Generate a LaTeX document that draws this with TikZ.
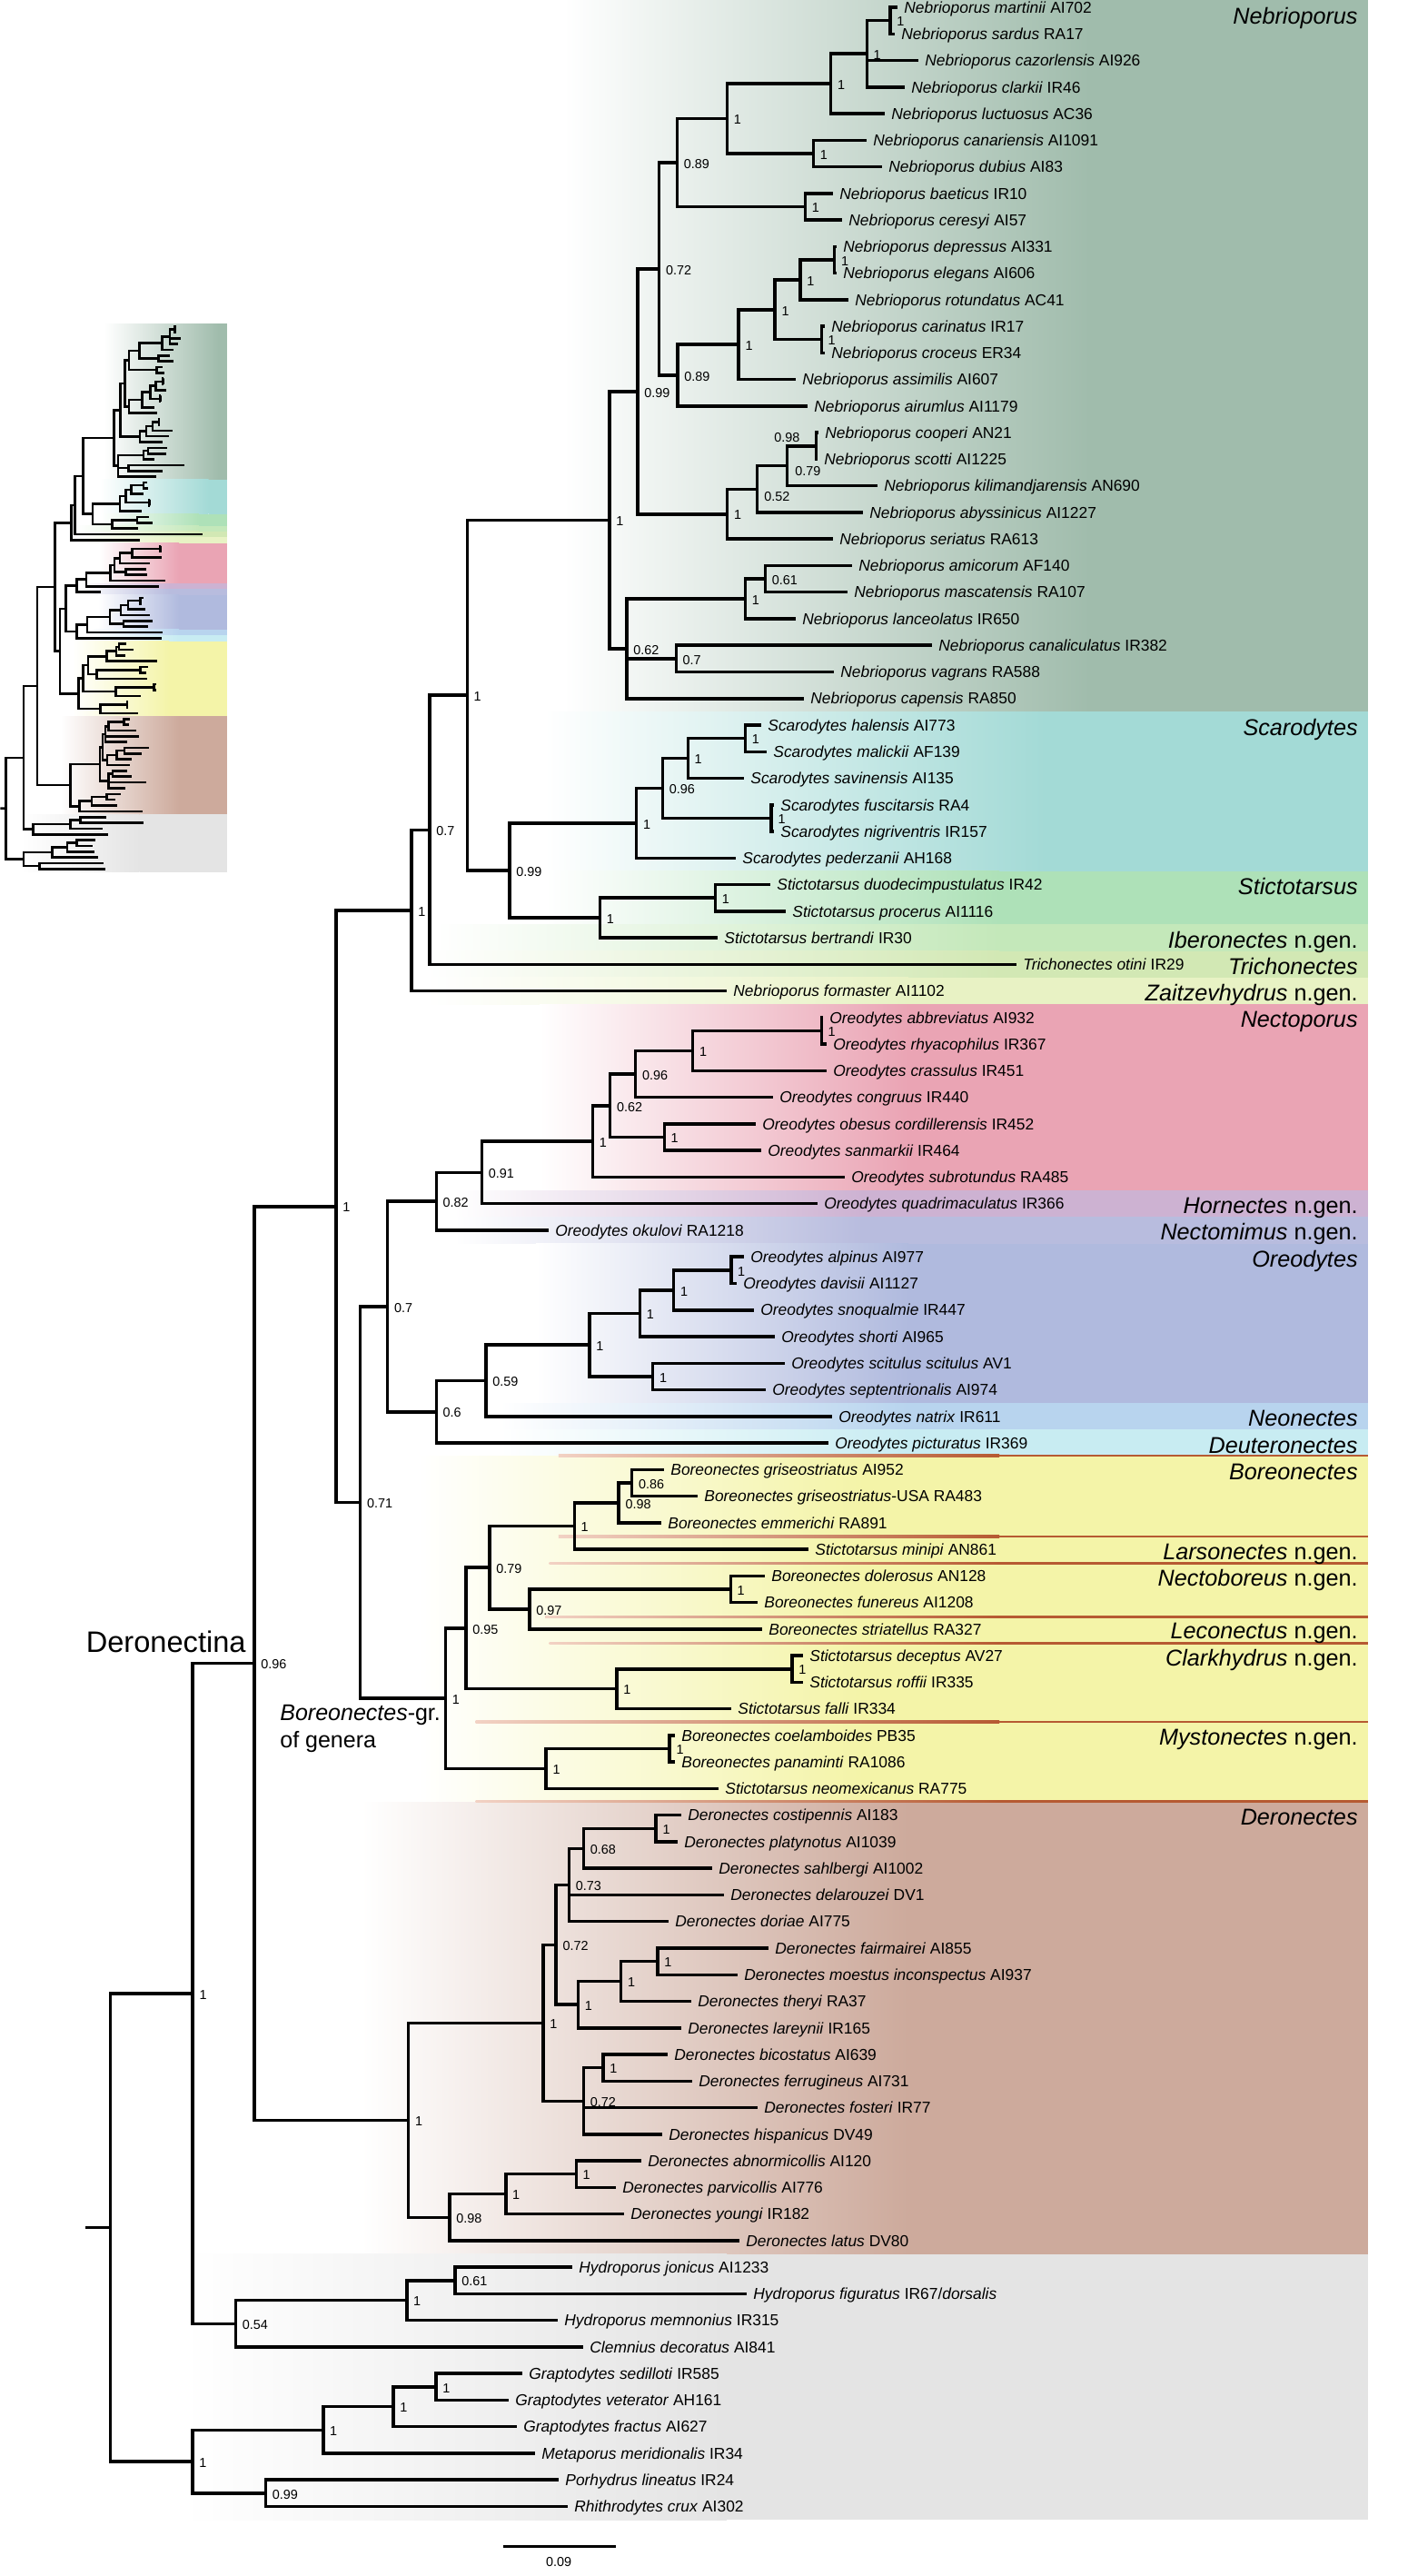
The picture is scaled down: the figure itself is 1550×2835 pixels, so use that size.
\documentclass[tikz,border=0pt]{standalone}
\usepackage{fontspec}
\setmainfont{Liberation Sans}
\usetikzlibrary{calc}
\definecolor{cNeb}{HTML}{A0BCAC}
\definecolor{cSca}{HTML}{A3DAD6}
\definecolor{cSti}{HTML}{AEE1B8}
\definecolor{cIbe}{HTML}{C4E8BA}
\definecolor{cTri}{HTML}{D2E8B4}
\definecolor{cZai}{HTML}{E8F2C4}
\definecolor{cNec}{HTML}{EAA4B4}
\definecolor{cHor}{HTML}{CDB2D2}
\definecolor{cNem}{HTML}{B8BCDE}
\definecolor{cOre}{HTML}{B0BADE}
\definecolor{cNeo}{HTML}{B8D4EE}
\definecolor{cDeu}{HTML}{C8ECF2}
\definecolor{cBor}{HTML}{F4F4A8}
\definecolor{cDer}{HTML}{CDAA9C}
\definecolor{cOut}{HTML}{E4E4E4}
\definecolor{cRed}{HTML}{B65A32}
\definecolor{cRedL}{HTML}{F2D2C4}

\newif\ifmaintree
\newcommand\ly[1]{8+29.26*(#1-1)}
\newcommand\lfx[4]{\coordinate (#1) at (#3,{\ly{#2}});\ifmaintree\node[leaflab] (#1t) at ($(#1)+(7,6.23)$) {#4};\fi}
\newcommand\lf[5]{\lfx{#1}{#2}{#3}{\textit{#4} #5}}
\newcommand\nd[6][7,6.2]{%
 \coordinate (tmp) at ($(#4)!0.5!(#5)$);
 \coordinate (#2) at (#3,0 |- tmp);
 \draw[br] (#2) |- (#4);
 \draw[br] (#2) |- (#5);
 \ifmaintree\node[suplab] (#2s) at ($(#2)+(#1)$) {#6};\fi}
\newcommand\band[6]{%
 \pgfmathsetmacro\bdT{8+29.26*(#1-1)-14.63}%
 \pgfmathsetmacro\bdB{8+29.26*(#2-1)+14.63}%
 \shade[left color=white, right color=#3] (#4,\bdT) rectangle (#5,\bdB);
 \fill[#3] (#5-0.5,\bdT) rectangle (#6,\bdB);}
\newcommand\AllBands[1]{%
 \band{1}{27}{cNeb}{620}{1200}{#1}
 \band{28}{33}{cSca}{600}{1150}{#1}
 \band{34}{35}{cSti}{600}{1100}{#1}
 \band{36}{36}{cIbe}{480}{1100}{#1}
 \band{37}{37}{cTri}{470}{1100}{#1}
 \band{38}{38}{cZai}{470}{1000}{#1}
 \band{39}{45}{cNec}{594}{1000}{#1}
 \band{46}{46}{cHor}{500}{950}{#1}
 \band{47}{47}{cNem}{500}{950}{#1}
 \band{48}{53}{cOre}{590}{1000}{#1}
 \band{54}{54}{cNeo}{550}{1000}{#1}
 \band{55}{55}{cDeu}{550}{1000}{#1}
 \band{56}{68}{cBor}{460}{950}{#1}
 \band{69}{85}{cDer}{398}{1000}{#1}
 \band{86}{95}{cOut}{200}{800}{#1}}
\newcommand\rl[2]{\shade[left color=cRedL, right color=cRed] (#1,{#2-1.2}) rectangle (1100,{#2+1.2});
 \fill[cRed] (1099.5,{#2-1.2}) rectangle (1506,{#2+1.2});}
\newcommand\clade[3]{\node[cladelab] (#1) at (1495,{\ly{#2}+11}) {#3};}

\newcommand\TreeBody{%
\lf{L1}{1}{988}{Nebrioporus martinii}{AI702}
\lf{L2}{2}{985}{Nebrioporus sardus}{RA17}
\lf{L3}{3}{1011}{Nebrioporus cazorlensis}{AI926}
\lf{L4}{4}{996}{Nebrioporus clarkii}{IR46}
\lf{L5}{5}{974}{Nebrioporus luctuosus}{AC36}
\lf{L6}{6}{954}{Nebrioporus canariensis}{AI1091}
\lf{L7}{7}{971}{Nebrioporus dubius}{AI83}
\lf{L8}{8}{917}{Nebrioporus baeticus}{IR10}
\lf{L9}{9}{927}{Nebrioporus ceresyi}{AI57}
\lf{L10}{10}{921}{Nebrioporus depressus}{AI331}
\lf{L11}{11}{921}{Nebrioporus elegans}{AI606}
\lf{L12}{12}{934}{Nebrioporus rotundatus}{AC41}
\lf{L13}{13}{908}{Nebrioporus carinatus}{IR17}
\lf{L14}{14}{908}{Nebrioporus croceus}{ER34}
\lf{L15}{15}{876}{Nebrioporus assimilis}{AI607}
\lf{L16}{16}{889}{Nebrioporus airumlus}{AI1179}
\lf{L17}{17}{901}{Nebrioporus cooperi}{AN21}
\lf{L18}{18}{900}{Nebrioporus scotti}{AI1225}
\lf{L19}{19}{966}{Nebrioporus kilimandjarensis}{AN690}
\lf{L20}{20}{950}{Nebrioporus abyssinicus}{AI1227}
\lf{L21}{21}{917}{Nebrioporus seriatus}{RA613}
\lf{L22}{22}{938}{Nebrioporus amicorum}{AF140}
\lf{L23}{23}{933}{Nebrioporus mascatensis}{RA107}
\lf{L24}{24}{876}{Nebrioporus lanceolatus}{IR650}
\lf{L25}{25}{1026}{Nebrioporus canaliculatus}{IR382}
\lf{L26}{26}{918}{Nebrioporus vagrans}{RA588}
\lf{L27}{27}{885}{Nebrioporus capensis}{RA850}
\lf{L28}{28}{838}{Scarodytes halensis}{AI773}
\lf{L29}{29}{844}{Scarodytes malickii}{AF139}
\lf{L30}{30}{819}{Scarodytes savinensis}{AI135}
\lf{L31}{31}{852}{Scarodytes fuscitarsis}{RA4}
\lf{L32}{32}{852}{Scarodytes nigriventris}{IR157}
\lf{L33}{33}{810}{Scarodytes pederzanii}{AH168}
\lf{L34}{34}{848}{Stictotarsus duodecimpustulatus}{IR42}
\lf{L35}{35}{865}{Stictotarsus procerus}{AI1116}
\lf{L36}{36}{790}{Stictotarsus bertrandi}{IR30}
\lf{L37}{37}{1119}{Trichonectes otini}{IR29}
\lf{L38}{38}{800}{Nebrioporus formaster}{AI1102}
\lf{L39}{39}{906}{Oreodytes abbreviatus}{AI932}
\lf{L40}{40}{910}{Oreodytes rhyacophilus}{IR367}
\lf{L41}{41}{910}{Oreodytes crassulus}{IR451}
\lf{L42}{42}{851}{Oreodytes congruus}{IR440}
\lf{L43}{43}{832}{Oreodytes obesus cordillerensis}{IR452}
\lf{L44}{44}{838}{Oreodytes sanmarkii}{IR464}
\lf{L45}{45}{930}{Oreodytes subrotundus}{RA485}
\lf{L46}{46}{900}{Oreodytes quadrimaculatus}{IR366}
\lf{L47}{47}{604}{Oreodytes okulovi}{RA1218}
\lf{L48}{48}{819}{Oreodytes alpinus}{AI977}
\lf{L49}{49}{811}{Oreodytes davisii}{AI1127}
\lf{L50}{50}{830}{Oreodytes snoqualmie}{IR447}
\lf{L51}{51}{853}{Oreodytes shorti}{AI965}
\lf{L52}{52}{864}{Oreodytes scitulus scitulus}{AV1}
\lf{L53}{53}{843}{Oreodytes septentrionalis}{AI974}
\lf{L54}{54}{916}{Oreodytes natrix}{IR611}
\lf{L55}{55}{912}{Oreodytes picturatus}{IR369}
\lf{L56}{56}{731}{Boreonectes griseostriatus}{AI952}
\lfx{L57}{57}{768}{\textit{Boreonectes griseostriatus}-USA RA483}
\lf{L58}{58}{728}{Boreonectes emmerichi}{RA891}
\lf{L59}{59}{890}{Stictotarsus minipi}{AN861}
\lf{L60}{60}{842}{Boreonectes dolerosus}{AN128}
\lf{L61}{61}{834}{Boreonectes funereus}{AI1208}
\lf{L62}{62}{839}{Boreonectes striatellus}{RA327}
\lf{L63}{63}{884}{Stictotarsus deceptus}{AV27}
\lf{L64}{64}{884}{Stictotarsus roffii}{IR335}
\lf{L65}{65}{805}{Stictotarsus falli}{IR334}
\lf{L66}{66}{743}{Boreonectes coelamboides}{PB35}
\lf{L67}{67}{743}{Boreonectes panaminti}{RA1086}
\lf{L68}{68}{791}{Stictotarsus neomexicanus}{RA775}
\lf{L69}{69}{750}{Deronectes costipennis}{AI183}
\lf{L70}{70}{746}{Deronectes platynotus}{AI1039}
\lf{L71}{71}{784}{Deronectes sahlbergi}{AI1002}
\lf{L72}{72}{797}{Deronectes delarouzei}{DV1}
\lf{L73}{73}{736}{Deronectes doriae}{AI775}
\lf{L74}{74}{846}{Deronectes fairmairei}{AI855}
\lf{L75}{75}{812}{Deronectes moestus inconspectus}{AI937}
\lf{L76}{76}{761}{Deronectes theryi}{RA37}
\lf{L77}{77}{750}{Deronectes lareynii}{IR165}
\lf{L78}{78}{735}{Deronectes bicostatus}{AI639}
\lf{L79}{79}{762}{Deronectes ferrugineus}{AI731}
\lf{L80}{80}{834}{Deronectes fosteri}{IR77}
\lf{L81}{81}{729}{Deronectes hispanicus}{DV49}
\lf{L82}{82}{706}{Deronectes abnormicollis}{AI120}
\lf{L83}{83}{678}{Deronectes parvicollis}{AI776}
\lf{L84}{84}{687}{Deronectes youngi}{IR182}
\lf{L85}{85}{814}{Deronectes latus}{DV80}
\lf{L86}{86}{630}{Hydroporus jonicus}{AI1233}
\lfx{L87}{87}{822}{\textit{Hydroporus figuratus} IR67/\textit{dorsalis}}
\lf{L88}{88}{614}{Hydroporus memnonius}{IR315}
\lf{L89}{89}{642}{Clemnius decoratus}{AI841}
\lf{L90}{90}{575}{Graptodytes sedilloti}{IR585}
\lf{L91}{91}{560}{Graptodytes veterator}{AH161}
\lf{L92}{92}{569}{Graptodytes fractus}{AI627}
\lf{L93}{93}{589}{Metaporus meridionalis}{IR34}
\lf{L94}{94}{615}{Porhydrus lineatus}{IR24}
\lf{L95}{95}{625}{Rhithrodytes crux}{AI302}
\nd{nMS}{980}{L1}{L2}{1}
\nd{nP1}{954.3}{nMS}{L4}{1}\draw[br] (nP1) |- (L3);
\nd{nA}{914.6}{nP1}{L5}{1}
\nd{nCD}{895.4}{L6}{L7}{1}
\nd{nB}{800.4}{nA}{nCD}{1}
\nd{nBC}{886.4}{L8}{L9}{1}
\nd{nC}{745.4}{nB}{nBC}{0.89}
\nd{nDE}{918.6}{L10}{L11}{1}
\nd{nH}{881}{nDE}{L12}{1}
\nd{nCC}{904.3}{L13}{L14}{1}
\nd{nG}{853.2}{nH}{nCC}{1}
\nd{nF}{813.2}{nG}{L15}{1}
\nd{nE}{746}{nF}{L16}{0.89}
\nd{nD}{725.7}{nC}{nE}{0.72}
\nd[-46.6,-4.3]{nCS}{898.6}{L17}{L18}{0.98}
\nd[8.6,11]{nM}{866.4}{nCS}{L19}{0.79}
\nd[7.4,13.4]{nL}{833.6}{nM}{L20}{0.52}
\nd{nI}{800.7}{nL}{L21}{1}
\nd{nJ}{702}{nD}{nI}{0.99}
\nd{nQ}{842.5}{L22}{L23}{0.61}
\nd{nO}{820.4}{nQ}{L24}{1}
\nd{nPP}{744.3}{L25}{L26}{0.7}
\nd{nN}{690}{nO}{L27}{0.62}\draw[br] (nN) |- (nPP);
\nd{nK}{671}{nJ}{nN}{1}
\nd{nHM}{820.5}{L28}{L29}{1}
\nd{nW}{757.3}{nHM}{L30}{1}
\nd{nFN}{849.2}{L31}{L32}{1}
\nd{nV}{729.4}{nW}{nFN}{0.96}
\nd{nT}{700.7}{nV}{L33}{1}
\nd{nDP}{787.5}{L34}{L35}{1}
\nd{nU}{660.5}{nDP}{L36}{1}
\nd{nR}{561}{nT}{nU}{0.99}
\nd{nS}{514.3}{nK}{nR}{1}
\nd{nX}{473}{nS}{L37}{0.7}
\nd{nY}{453}{nX}{L38}{1}
\nd{nAR}{904.3}{L39}{L40}{1}
\nd{nAC}{762.7}{nAR}{L41}{1}
\nd{nO96}{699.6}{nAC}{L42}{0.96}
\nd{nOS}{731.3}{L43}{L44}{1}
\nd{nO62}{671.6}{nO96}{nOS}{0.62}
\nd{nNec}{652.5}{nO62}{L45}{1}
\nd{nO91}{530.4}{nNec}{L46}{0.91}
\nd{nO82}{480.3}{nO91}{L47}{0.82}
\nd{nAD}{804.8}{L48}{L49}{1}
\nd{nADS}{741.7}{nAD}{L50}{1}
\nd{nSh}{704.5}{nADS}{L51}{1}
\nd{nSS}{718.7}{L52}{L53}{1}
\nd{nOre}{649}{nSh}{nSS}{1}
\nd{nO59}{535}{nOre}{L54}{0.59}
\nd{nO6}{480.3}{nO59}{L55}{0.6}
\nd{nO7}{426.7}{nO82}{nO6}{0.7}
\nd{nB86}{695.7}{L56}{L57}{0.86}
\nd{nB98}{681.2}{nB86}{L58}{0.98}
\nd{nGr}{632.3}{nB98}{L59}{1}
\nd{nDF}{804.3}{L60}{L61}{1}
\nd{nB97}{583}{nDF}{L62}{0.97}
\nd{nB79}{539}{nGr}{nB97}{0.79}
\nd{nDR}{871.9}{L63}{L64}{1}
\nd{nDec}{679}{nDR}{L65}{1}
\nd{nB95}{513}{nB79}{nDec}{0.95}
\nd{nCP}{737.1}{L66}{L67}{1}
\nd{nCoe}{601.2}{nCP}{L68}{1}
\nd{nBor}{490.5}{nB95}{nCoe}{1}
\nd{nB71}{396.7}{nO7}{nBor}{0.71}
\nd{nZ}{370}{nY}{nB71}{1}
\nd{nCPl}{722.1}{L69}{L70}{1}
\nd{nD68}{642.5}{nCPl}{L71}{0.68}
\nd{nD73}{626.4}{nD68}{L73}{0.73}\draw[br] (nD73) |- (L72);
\nd{nFM}{723.9}{L74}{L75}{1}
\nd{nFMT}{683.6}{nFM}{L76}{1}
\nd{nFML}{636.4}{nFMT}{L77}{1}
\nd{nD72a}{612.1}{nD73}{nFML}{0.72}
\nd{nBF}{663.9}{L78}{L79}{1}
\nd{nD72b}{642.5}{nBF}{L81}{0.72}\draw[br] (nD72b) |- (L80);
\nd{nDer1}{597.9}{nD72a}{nD72b}{1}
\nd{nAP}{634.3}{L82}{L83}{1}
\nd{nAPY}{556.8}{nAP}{L84}{1}
\nd{nD98}{495}{nAPY}{L85}{0.98}
\nd{nDer}{449.6}{nDer1}{nD98}{1}
\nd{nR96}{280}{nZ}{nDer}{0.96}
\nd{nH61}{500.9}{L86}{L87}{0.61}
\nd{nHyd}{447.8}{nH61}{L88}{1}
\nd{nH54}{259.5}{nHyd}{L89}{0.54}
\nd{nRoot1}{212.2}{nR96}{nH54}{1}
\nd{nSV}{479.9}{L90}{L91}{1}
\nd{nGrF}{433}{nSV}{L92}{1}
\nd{nGM}{355.8}{nGrF}{L93}{1}
\nd{nPR}{292.4}{L94}{L95}{0.99}
\nd{nG1}{212}{nGM}{nPR}{1}
\coordinate (tmp) at ($(nRoot1)!0.5!(nG1)$);
\coordinate (nRoot) at (121.4,0 |- tmp);
\draw[br] (nRoot) |- (nRoot1);
\draw[br] (nRoot) |- (nG1);
\coordinate (rs) at (94,0 |- nRoot);
\draw[br] (rs) -- (nRoot);
}

\tikzset{
 br/.style={line width=1.75pt},
 leaflab/.style={anchor=base west, inner sep=0pt, font=\fontsize{8.7}{10}\selectfont},
 suplab/.style={anchor=base west, inner sep=0pt, font=\fontsize{7.2}{8}\selectfont},
 cladelab/.style={anchor=base east, inner sep=0pt, font=\fontsize{12.6}{14}\selectfont},
}

\begin{document}
\begin{tikzpicture}[x=0.5pt,y=-0.5pt]
\useasboundingbox (0,0) rectangle (1550,2835);
\fill[white] (0,0) rectangle (1550,2835);
% main bands
\AllBands{1506}
% red separators in Boreonectes group
\rl{614.8}{1602}
\rl{614.8}{1691}
\rl{604.5}{1720.5}
\rl{600}{1779.5}
\rl{604.5}{1808.5}
\rl{523.6}{1895}
\rl{523.6}{1982.6}
% thumbnail
\begin{scope}[name prefix=t-, shift={(-19.9,357.8)}, scale=0.217, br/.style={line width=1.3pt}]
\maintreefalse
\AllBands{1243.8}
\TreeBody
\end{scope}
% main tree
\maintreetrue
\TreeBody
% clade labels
\node[cladelab] (clNeb) at (1495,27) {\textit{Nebrioporus}};
\clade{clSca}{28}{\textit{Scarodytes}}
\clade{clSti}{34}{\textit{Stictotarsus}}
\clade{clIbe}{36}{\textit{Iberonectes} n.gen.}
\clade{clTri}{37}{\textit{Trichonectes}}
\clade{clZai}{38}{\textit{Zaitzevhydrus} n.gen.}
\clade{clNec}{39}{\textit{Nectoporus}}
\clade{clHor}{46}{\textit{Hornectes} n.gen.}
\clade{clNem}{47}{\textit{Nectomimus} n.gen.}
\clade{clOre}{48}{\textit{Oreodytes}}
\clade{clNeo}{54}{\textit{Neonectes}}
\clade{clDeu}{55}{\textit{Deuteronectes}}
\clade{clBor}{56}{\textit{Boreonectes}}
\clade{clLar}{59}{\textit{Larsonectes} n.gen.}
\clade{clNbo}{60}{\textit{Nectoboreus} n.gen.}
\clade{clLec}{62}{\textit{Leconectus} n.gen.}
\clade{clCla}{63}{\textit{Clarkhydrus} n.gen.}
\clade{clMys}{66}{\textit{Mystonectes} n.gen.}
\clade{clDer}{69}{\textit{Deronectes}}
% group labels
\node[anchor=base east, inner sep=0pt, font=\fontsize{16.3}{18}\selectfont] (dlab) at (271,1818.7) {Deronectina};
\node[anchor=base west, inner sep=0pt, font=\fontsize{12.5}{14}\selectfont] (bg1) at (308,1893) {\textit{Boreonectes}-gr.};
\node[anchor=base west, inner sep=0pt, font=\fontsize{12.5}{14}\selectfont] (bg2) at (308,1923) {of genera};
% scale bar
\coordinate (sb1) at (553.6,2802.3);
\coordinate (sb2) at (677.7,2802.3);
\draw[br] (sb1) -- (sb2);
\node[inner sep=0pt, font=\fontsize{7.2}{8}\selectfont] (sbt) at (615.2,2819.3) {0.09};
\end{tikzpicture}
\end{document}
